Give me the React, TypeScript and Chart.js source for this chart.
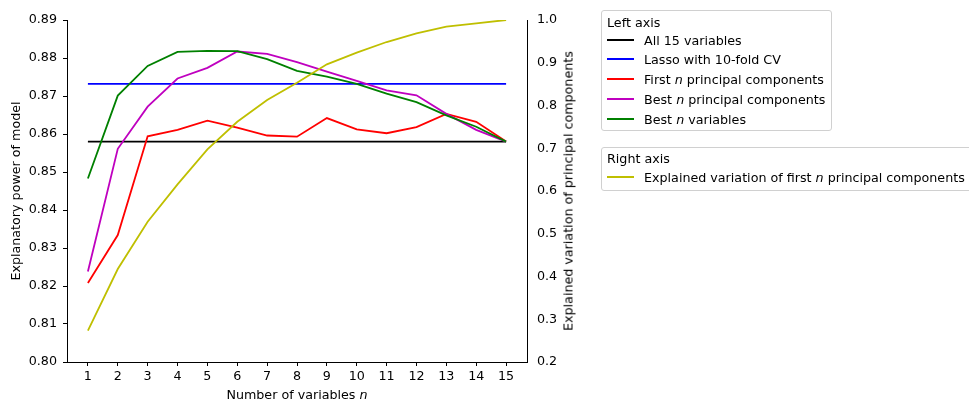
import React, { useEffect, useRef } from "react";
import { Chart, registerables } from "chart.js";

Chart.register(...registerables);

const nValues = [1, 2, 3, 4, 5, 6, 7, 8, 9, 10, 11, 12, 13, 14, 15];
const xTicks = [1, 2, 3, 4, 5, 6, 7, 8, 9, 10, 11, 12, 13, 14, 15];
const leftTicks = [0.8, 0.81, 0.82, 0.83, 0.84, 0.85, 0.86, 0.87, 0.88, 0.89];
const rightTicks = [0.2, 0.3, 0.4, 0.5, 0.6, 0.7, 0.8, 0.9, 1.0];

const allVariables = [0.858, 0.858, 0.858, 0.858, 0.858, 0.858, 0.858, 0.858, 0.858, 0.858, 0.858, 0.858, 0.858, 0.858, 0.858];
const lassoCV = [0.8732, 0.8732, 0.8732, 0.8732, 0.8732, 0.8732, 0.8732, 0.8732, 0.8732, 0.8732, 0.8732, 0.8732, 0.8732, 0.8732, 0.8732];
const firstNPC = [0.8208, 0.8334, 0.8594, 0.8611, 0.8635, 0.8617, 0.8596, 0.8593, 0.8642, 0.8612, 0.8602, 0.8618, 0.8653, 0.8632, 0.858];
const bestNPC = [0.8238, 0.8561, 0.8672, 0.8746, 0.8774, 0.8817, 0.8811, 0.8789, 0.8764, 0.874, 0.8715, 0.8702, 0.8653, 0.8611, 0.858];
const bestNVars = [0.8483, 0.8701, 0.8779, 0.8816, 0.8819, 0.8818, 0.8797, 0.8766, 0.8751, 0.8732, 0.8706, 0.8684, 0.8649, 0.8619, 0.858];
const explainedVar = [0.2732, 0.4175, 0.528, 0.6156, 0.6975, 0.762, 0.8129, 0.8534, 0.8963, 0.9236, 0.9485, 0.9688, 0.9844, 0.9922, 1.0];

const FONT = "'DejaVu Sans', sans-serif";
const FS = 12.7;

const leftLegend = [
  { color: "#000000", label: <>All 15 variables</> },
  { color: "#0000ff", label: <>Lasso with 10-fold CV</> },
  { color: "#ff0000", label: <>First <i>n</i> principal components</> },
  { color: "#bf00bf", label: <>Best <i>n</i> principal components</> },
  { color: "#008000", label: <>Best <i>n</i> variables</> },
];
const leftRowY = [39.3, 58.3, 77.5, 97.5, 117.5];

function pts(values: number[]) {
  return nValues.map((n, i) => ({ x: n, y: values[i] }));
}

export default function App() {
  const ref = useRef<HTMLCanvasElement>(null);

  useEffect(() => {
    document.body.style.margin = "0";
    document.body.style.overflow = "hidden";
    const ctx = ref.current!;
    const mk = (label: string, data: number[], color: string, axis: string, order: number) => ({
      label,
      data: pts(data),
      borderColor: color,
      backgroundColor: color,
      borderWidth: 1.8,
      pointRadius: 0,
      tension: 0,
      fill: false,
      yAxisID: axis,
      order,
    });
    const tickFont = { family: FONT, size: FS };
    const chart = new Chart(ctx, {
      type: "line",
      data: {
        datasets: [
          mk("All 15 variables", allVariables, "#000000", "yL", 6),
          mk("Lasso with 10-fold CV", lassoCV, "#0000ff", "yL", 5),
          mk("First n principal components", firstNPC, "#ff0000", "yL", 4),
          mk("Best n principal components", bestNPC, "#bf00bf", "yL", 3),
          mk("Best n variables", bestNVars, "#008000", "yL", 2),
          mk("Explained variation of first n principal components", explainedVar, "#bfbf00", "yR", 1),
        ],
      },
      options: {
        animation: false,
        responsive: false,
        maintainAspectRatio: false,
        layout: { padding: { left: 0, right: 390, top: 20, bottom: 0 } },
        plugins: { legend: { display: false }, tooltip: { enabled: false } },
        scales: {
          x: {
            type: "linear",
            min: 0.3,
            max: 15.7,
            afterBuildTicks: (s: any) => {
              s.ticks = xTicks.map((v) => ({ value: v }));
            },
            afterFit: (s: any) => {
              s.height = 38;
            },
            ticks: {
              color: "#000",
              font: tickFont,
              padding: 3,
              maxRotation: 0,
              autoSkip: false,
              callback: (v: any) => String(v),
            },
            grid: { drawOnChartArea: false, drawTicks: true, tickLength: 4, color: "#000", lineWidth: 1 },
            border: { display: true, color: "#000", width: 1 },
          },
          yL: {
            type: "linear",
            position: "left",
            min: 0.8,
            max: 0.89,
            afterBuildTicks: (s: any) => {
              s.ticks = leftTicks.map((v) => ({ value: v }));
            },
            afterFit: (s: any) => {
              s.width = 67;
            },
            ticks: {
              color: "#000",
              font: tickFont,
              padding: 6,
              autoSkip: false,
              callback: (v: any) => Number(v).toFixed(2),
            },
            grid: { drawOnChartArea: false, drawTicks: true, tickLength: 4, color: "#000", lineWidth: 1 },
            border: { display: true, color: "#000", width: 1 },
            title: {
              display: true,
              text: "Explanatory power of model",
              color: "#000",
              font: tickFont,
              padding: { top: 9, bottom: 0 },
            },
          },
          yR: {
            type: "linear",
            position: "right",
            min: 0.2,
            max: 1.0,
            afterBuildTicks: (s: any) => {
              s.ticks = rightTicks.map((v) => ({ value: v }));
            },
            afterFit: (s: any) => {
              s.width = 52;
            },
            ticks: {
              color: "#000",
              font: tickFont,
              padding: 10,
              autoSkip: false,
              callback: (v: any) => Number(v).toFixed(1),
            },
            grid: { drawOnChartArea: false, drawTicks: false, tickLength: 0, color: "#000", lineWidth: 1 },
            border: { display: true, color: "#000", width: 1 },
          },
        },
      } as any,
    });
    return () => chart.destroy();
  }, []);

  const rowText: React.CSSProperties = {
    position: "absolute",
    left: 42,
    fontFamily: FONT,
    fontSize: FS,
    lineHeight: "15px",
    color: "#000",
    whiteSpace: "nowrap",
    transform: "translateY(-50%)",
  };
  const sample = (color: string, y: number): React.CSSProperties => ({
    position: "absolute",
    left: 5,
    width: 27,
    height: 2,
    top: y - 1,
    background: color,
  });

  return (
    <div style={{ position: "relative", width: 969, height: 400, overflow: "hidden", background: "#fff" }}>
      <canvas ref={ref} width={969} height={400} style={{ position: "absolute", left: 0, top: 0, width: 969, height: 400 }} />
      <div
        style={{
          position: "absolute",
          left: 67,
          width: 460,
          top: 387,
          textAlign: "center",
          fontFamily: FONT,
          fontSize: FS,
          lineHeight: "15px",
          color: "#000",
          whiteSpace: "nowrap",
        }}
      >
        Number of variables <i>n</i>
      </div>
      <div
        style={{
          position: "absolute",
          left: 568,
          top: 191,
          fontFamily: FONT,
          fontSize: FS,
          lineHeight: "15px",
          color: "#000",
          whiteSpace: "nowrap",
          transform: "translate(-50%, -50%) rotate(-90deg)",
        }}
      >
        Explained variation of principal components
      </div>
      <div
        style={{
          position: "absolute",
          left: 601,
          top: 10,
          width: 229,
          height: 119,
          border: "1px solid #d0d0d0",
          borderRadius: 3,
          background: "rgba(255,255,255,0.8)",
        }}
      >
        <div style={{ ...rowText, left: 5, top: 20.7 - 10 }}>Left axis</div>
        {leftLegend.map((item, i) => (
          <React.Fragment key={i}>
            <div style={sample(item.color, leftRowY[i] - 10)} />
            <div style={{ ...rowText, top: leftRowY[i] - 10 }}>{item.label}</div>
          </React.Fragment>
        ))}
      </div>
      <div
        style={{
          position: "absolute",
          left: 601,
          top: 147,
          width: 372,
          height: 42,
          border: "1px solid #d0d0d0",
          borderRadius: 3,
          background: "rgba(255,255,255,0.8)",
        }}
      >
        <div style={{ ...rowText, left: 5, top: 157.3 - 147 }}>Right axis</div>
        <div style={sample("#bfbf00", 176 - 147)} />
        <div style={{ ...rowText, top: 176 - 147 }}>
          Explained variation of first <i>n</i> principal components
        </div>
      </div>
    </div>
  );
}
